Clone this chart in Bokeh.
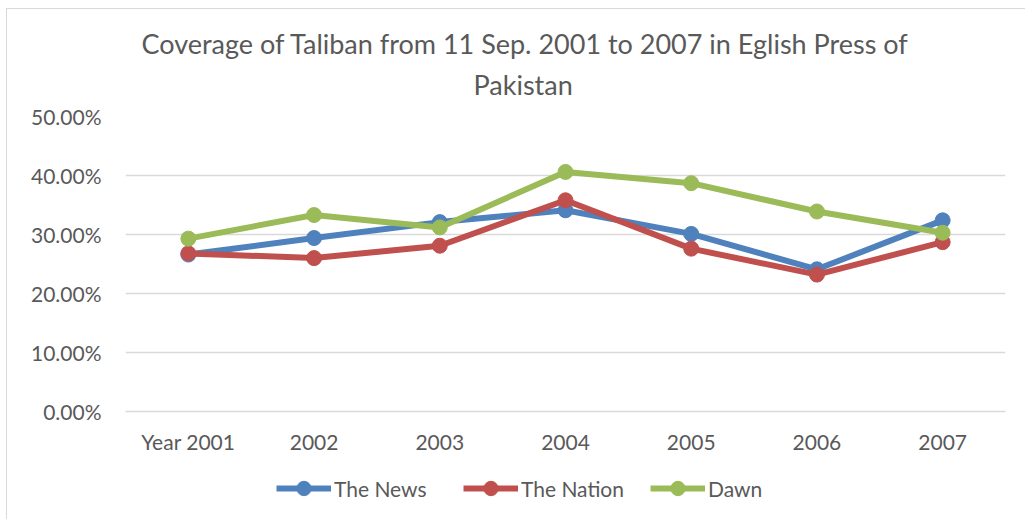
from bokeh.plotting import figure
from bokeh.layouts import column
from bokeh.models import FactorRange, Range1d, FixedTicker, NumeralTickFormatter, Legend, LegendItem, Title
from bokeh.embed import file_html
from bokeh.resources import INLINE

years = ["Year 2001", "2002", "2003", "2004", "2005", "2006", "2007"]
the_news = [0.266, 0.294, 0.321, 0.341, 0.301, 0.241, 0.324]
the_nation = [0.268, 0.260, 0.281, 0.358, 0.276, 0.232, 0.287]
dawn = [0.293, 0.333, 0.312, 0.406, 0.387, 0.339, 0.303]
y_ticks = [0.0, 0.1, 0.2, 0.3, 0.4, 0.5]
title_lines = ["Coverage of Taliban from 11 Sep. 2001 to 2007 in Eglish Press of", "Pakistan"]

FONT = "Lato"
TXT = "#595959"
series = [("The News", the_news, "#4F81BD"), ("The Nation", the_nation, "#C0504D"), ("Dawn", dawn, "#9BBB59")]

# main chart
p = figure(frame_width=880, frame_height=295, x_range=FactorRange(*years), y_range=Range1d(0, 0.5),
           output_backend="svg", toolbar_location=None,
           min_border_left=118, min_border_right=20, min_border_top=107, min_border_bottom=54)
p.outline_line_color = None
p.background_fill_color = "white"
p.border_fill_color = "white"

t2 = Title(text=title_lines[1], align="left", offset=348, standoff=31, text_font=FONT,
           text_font_size="27px", text_color=TXT, text_font_style="normal")
t1 = Title(text=title_lines[0], align="left", offset=16, standoff=-19, text_font=FONT,
           text_font_size="27px", text_color=TXT, text_font_style="normal")
p.add_layout(t2, "above")
p.add_layout(t1, "above")

p.yaxis.ticker = FixedTicker(ticks=y_ticks)
p.yaxis.formatter = NumeralTickFormatter(format="0.00%")
p.yaxis.axis_line_color = None
p.yaxis.major_tick_line_color = None
p.yaxis.minor_tick_line_color = None
p.yaxis.major_label_text_font = FONT
p.yaxis.major_label_text_font_size = "21px"
p.yaxis.major_label_text_color = TXT
p.yaxis.major_label_standoff = 18

p.xaxis.axis_line_color = "#d9d9d9"
p.xaxis.axis_line_width = 1.3
p.xaxis.major_tick_line_color = None
p.xaxis.minor_tick_line_color = None
p.xaxis.major_label_text_font = FONT
p.xaxis.major_label_text_font_size = "21px"
p.xaxis.major_label_text_color = TXT
p.xaxis.major_label_standoff = 11

p.xgrid.grid_line_color = None
p.ygrid.grid_line_color = "#d9d9d9"
p.ygrid.grid_line_width = 1.3

for name, vals, col in series:
    p.line(years, vals, line_color=col, line_width=6)
    p.scatter(years, vals, size=15, fill_color=col, line_color=col)

# legend strip below the chart (series plotted outside its visible range, only the legend shows)
lg = figure(width=1018, height=54, x_range=FactorRange(*years), y_range=Range1d(1, 2),
            output_backend="svg", toolbar_location=None,
            min_border_left=0, min_border_right=0, min_border_top=0, min_border_bottom=0)
lg.axis.visible = False
lg.grid.visible = False
lg.outline_line_color = None
lg.background_fill_color = "white"
lg.border_fill_color = "white"

items = []
for name, vals, col in series:
    l = lg.line(years, vals, line_color=col, line_width=6)
    c = lg.scatter(years, vals, size=15, fill_color=col, line_color=col)
    items.append(LegendItem(label=name, renderers=[l, c]))

legend = Legend(items=items, orientation="horizontal", location=(151, 13),
                label_text_font=FONT, label_text_font_size="21px", label_text_color=TXT,
                glyph_width=55, glyph_height=36, label_height=25, label_width=125, spacing=4,
                border_line_color=None, background_fill_alpha=0, padding=0, margin=0,
                label_standoff=3)
lg.add_layout(legend, "center")

layout = column(p, lg, spacing=0)
layout.styles = {"border-left": "1px solid #d9d9d9", "border-top": "1px solid #d9d9d9",
                 "margin-left": "6px", "margin-top": "8px"}

open("out.html", "w").write(file_html(layout, INLINE))
